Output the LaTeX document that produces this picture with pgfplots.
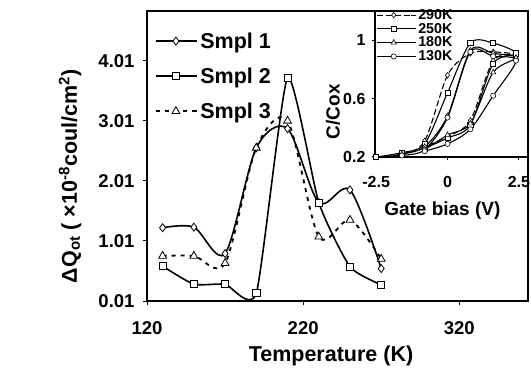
\documentclass[border=0pt]{standalone}
\usepackage{fontspec}
\setmainfont{Liberation Sans}
\usepackage{pgfplots}
\pgfplotsset{compat=1.18}
\newcommand\fA{\fontsize{18.5bp}{21bp}\selectfont\bfseries}
\newcommand\fB{\fontsize{21.5bp}{25bp}\selectfont\bfseries}
\newcommand\fC{\fontsize{16bp}{18bp}\selectfont\bfseries}
\newcommand\fD{\fontsize{19bp}{22bp}\selectfont\bfseries}
\newcommand\fE{\fontsize{14.3bp}{14bp}\selectfont\bfseries}
\begin{document}
\begin{tikzpicture}
\useasboundingbox (0,0) rectangle (531bp,372bp);
\begin{axis}[
  at={(147bp,71bp)}, anchor=south west, scale only axis,
  width=381bp, height=290bp,
  xmin=120, xmax=364, ymin=0.01, ymax=4.84,
  xtick={120,220,320}, xticklabels={120,220,320},
  ytick={0.01,1.01,2.01,3.01,4.01}, yticklabels={0.01,1.01,2.01,3.01,4.01},
  tick align=outside, xtick pos=bottom, ytick pos=left,
  major tick length=4bp,
  tick style={line width=1bp, black},
  axis line style={line width=1.5bp},
  tick label style={font=\fA},
  xticklabel style={yshift=-13bp},
  yticklabel style={xshift=-5bp},
  xlabel={Temperature (K)},
  ylabel={ΔQ\textsubscript{ot} ( ×10\textsuperscript{-8}coul/cm\textsuperscript{2})},
  every axis x label/.style={at={(axis description cs:0.483,0)}, anchor=center, yshift=-55bp, font=\fB},
  every axis y label/.style={at={(axis description cs:-0.202,0.43)}, anchor=center, rotate=90, font=\fB},
  legend style={at={(axis description cs:0.014,0.94)}, anchor=north west, draw=none, fill=none,
    font=\fB, row sep=14bp, cells={anchor=west}},
  legend image code/.code={\draw[mark repeat=2,mark phase=2,#1] plot coordinates {(0bp,0bp) (19.5bp,0bp) (39bp,0bp)}; \path (39bp,0bp) -- (41bp,0bp);},
]
\addplot[black, line width=1.6bp, smooth, tension=0.5, mark=diamond*, mark size=4bp,
  mark options={solid, fill=white, line width=0.8bp}]
  coordinates {(130,1.23) (150,1.24) (170,0.80) (190,2.56) (210,2.88) (230,1.65) (250,1.86) (270,0.55)};
\addlegendentry{Smpl 1}
\addplot[black, line width=1.6bp, smooth, tension=0.33, mark=square*, mark size=3.6bp,
  mark options={solid, fill=white, line width=0.8bp}]
  coordinates {(130,0.59) (150,0.29) (170,0.29) (190,0.14) (210,3.73) (230,1.65) (250,0.58) (270,0.28)};
\addlegendentry{Smpl 2}
\addplot[black, line width=1.8bp, smooth, tension=0.5, dash pattern=on 4bp off 5bp, mark=triangle*, mark size=4.5bp,
  mark options={solid, fill=white, line width=0.8bp}]
  coordinates {(130,0.76) (150,0.76) (170,0.64) (190,2.56) (210,3.01) (230,1.08) (250,1.36) (270,0.71)};
\addlegendentry{Smpl 3}
\end{axis}
\begin{axis}[
  at={(375bp,215bp)}, anchor=south west, scale only axis,
  width=153bp, height=146bp,
  xmin=-2.54, xmax=2.82, ymin=0.2, ymax=1.2,
  axis background/.style={fill=white},
  xtick={-2.5,0,2.5}, xticklabels={-2.5,0,2.5},
  ytick={0.2,0.6,1}, yticklabels={0.2,0.6,1},
  tick align=outside, xtick pos=bottom, ytick pos=left,
  major tick length=3bp,
  tick style={line width=1bp, black},
  axis line style={line width=1.5bp},
  tick label style={font=\fC},
  xticklabel style={yshift=-13bp},
  yticklabel style={xshift=-3bp},
  xlabel={Gate bias (V)},
  ylabel={C/Cox},
  every axis x label/.style={at={(axis description cs:0.44,0)}, anchor=center, yshift=-54bp, font=\fD},
  every axis y label/.style={at={(axis description cs:-0.275,0.31)}, anchor=center, rotate=90, font=\fD},
  legend style={at={(axis description cs:0.0,1.033)}, anchor=north west, draw=none, fill=none,
    font=\fE, row sep=-1.7bp, inner sep=1bp, cells={anchor=west}},
  legend image code/.code={\draw[mark repeat=2,mark phase=2,#1] plot coordinates {(0bp,0bp) (17bp,0bp) (34bp,0bp)}; \path (34bp,0bp) -- (39bp,0bp);},
]
\addplot[black, line width=1.1bp, smooth, tension=0.5, dash pattern=on 6bp off 3bp, mark=diamond*, mark size=2.8bp,
  mark options={solid, fill=white, line width=0.6bp}]
  coordinates {(-2.5,0.20) (-1.6,0.22) (-0.8,0.31) (0,0.76) (0.8,0.91) (1.6,0.92) (2.4,0.90) (1.6,0.86) (0.8,0.45) (0,0.34) (-0.8,0.27)};
\addlegendentry{290K}
\addplot[black, line width=1.1bp, smooth, tension=0.5, mark=square*, mark size=2.6bp,
  mark options={solid, fill=white, line width=0.6bp}]
  coordinates {(-2.5,0.20) (-1.6,0.23) (-0.8,0.29) (0,0.64) (0.8,0.98) (1.6,0.98) (2.4,0.91) (1.6,0.84) (0.8,0.42) (0,0.33) (-0.8,0.26)};
\addlegendentry{250K}
\addplot[black, line width=1.1bp, smooth, tension=0.5, mark=triangle*, mark size=3bp,
  mark options={solid, fill=white, line width=0.6bp}]
  coordinates {(-2.5,0.19) (-1.6,0.22) (-0.8,0.27) (0,0.48) (0.8,0.93) (1.6,0.91) (2.4,0.88) (1.6,0.78) (0.8,0.43) (0,0.35) (-0.8,0.25)};
\addlegendentry{180K}
\addplot[black, line width=1.1bp, smooth, tension=0.5, mark=*, mark size=2.6bp,
  mark options={solid, fill=white, line width=0.6bp}]
  coordinates {(-2.5,0.19) (-1.6,0.21) (-0.8,0.25) (0,0.47) (0.8,0.92) (1.6,0.89) (2.4,0.86) (1.6,0.62) (0.8,0.39) (0,0.29) (-0.8,0.24)};
\addlegendentry{130K}
\end{axis}
\end{tikzpicture}
\end{document}
